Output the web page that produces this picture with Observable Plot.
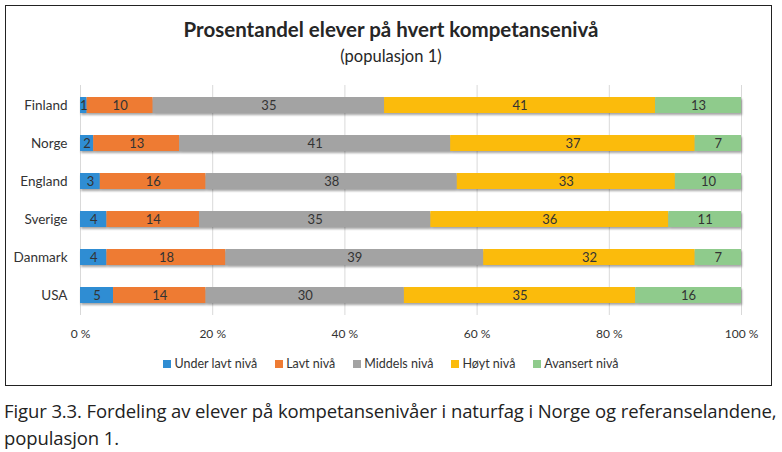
<!DOCTYPE html>
<html>
<head>
<meta charset="utf-8">
<script src="https://cdn.jsdelivr.net/npm/d3@7"></script>
<script src="https://cdn.jsdelivr.net/npm/@observablehq/plot@0.6"></script>
<style>
  html, body { margin: 0; padding: 0; background: #fff; }
  #page { position: relative; width: 782px; height: 452px; overflow: hidden; font-family: Lato, "Open Sans", sans-serif; color: #262626; }
  #frame { position: absolute; left: 5px; top: 5px; width: 765px; height: 379px; border: 1.5px solid #222; box-sizing: content-box; }
  #title { position: absolute; left: 0; width: 782px; top: 17px; text-align: center; font-weight: bold; font-size: 20.5px; color: #262626; }
  #subtitle { position: absolute; left: 0; width: 782px; top: 46px; text-align: center; font-size: 16.5px; color: #262626; }
  #chart { position: absolute; left: 0; top: 80px; }
  #chart svg g[aria-label="bar"] { filter: drop-shadow(1px 2px 1px rgba(0,0,0,0.35)); }
  #legend { position: absolute; left: 0; width: 782px; top: 356px; display: flex; justify-content: center; font-size: 12.5px; color: #333; }
  #legend .item { display: flex; align-items: center; margin: 0 9px; }
  #legend .sw { width: 8px; height: 8px; margin-right: 3px; }
  #caption { position: absolute; left: 4px; top: 397px; width: 778px; font-family: "Open Sans", Lato, sans-serif; font-size: 18.5px; line-height: 27px; color: #222; letter-spacing: -0.1px; }
</style>
</head>
<body>
<div id="page">
  <div id="frame"></div>
  <div id="title">Prosentandel elever på hvert kompetansenivå</div>
  <div id="subtitle">(populasjon 1)</div>
  <div id="chart"></div>
  <div id="legend"></div>
  <div id="caption">Figur 3.3. Fordeling av elever på kompetansenivåer i naturfag i Norge og referanselandene, populasjon 1.</div>
</div>
<script>
const countries = ["Finland", "Norge", "England", "Sverige", "Danmark", "USA"];
const levels = ["Under lavt nivå", "Lavt nivå", "Middels nivå", "Høyt nivå", "Avansert nivå"];
const colors = ["#2F8DD3", "#EE7B33", "#A3A3A3", "#FBBB0C", "#8FCB8C"];
const underLavt = [1, 2, 3, 4, 4, 5];
const lavt = [10, 13, 16, 14, 18, 14];
const middels = [35, 41, 38, 35, 39, 30];
const hoyt = [41, 37, 33, 36, 32, 35];
const avansert = [13, 7, 10, 11, 7, 16];
const xTicks = [0, 20, 40, 60, 80, 100];

const series = [underLavt, lavt, middels, hoyt, avansert];
const data = [];
countries.forEach((c, i) => {
  levels.forEach((l, j) => data.push({country: c, level: l, value: series[j][i]}));
});

const plot = Plot.plot({
  width: 782,
  height: 265,
  marginLeft: 80,
  marginRight: 41,
  marginTop: 5,
  marginBottom: 30,
  style: {fontFamily: "Lato, 'Open Sans', sans-serif", fontSize: "12px", color: "#333"},
  x: {domain: [0, 100], ticks: xTicks, tickFormat: d => d + " %", tickSize: 0, tickPadding: 14, label: null, grid: false},
  y: {domain: countries, paddingInner: 0.58, paddingOuter: 0.29, tickSize: 0, tickPadding: 13, label: null},
  color: {domain: levels, range: colors},
  marks: [
    Plot.ruleX(xTicks, {stroke: "#d9d9d9", strokeWidth: 1}),
    Plot.barX(data, {x: "value", y: "country", fill: "level", order: levels}),
    Plot.text(data, Plot.stackX({x: "value", y: "country", z: "level", order: levels, text: "value", fill: "#333", fontSize: 13})),
    Plot.axisY({tickSize: 0, tickPadding: 13, fontSize: 13.5, label: null})
  ]
});
document.getElementById("chart").appendChild(plot);

const leg = document.getElementById("legend");
levels.forEach((l, j) => {
  const it = document.createElement("div");
  it.className = "item";
  const sw = document.createElement("div");
  sw.className = "sw";
  sw.style.background = colors[j];
  const t = document.createElement("span");
  t.textContent = l;
  it.appendChild(sw); it.appendChild(t);
  leg.appendChild(it);
});
</script>
</body>
</html>
